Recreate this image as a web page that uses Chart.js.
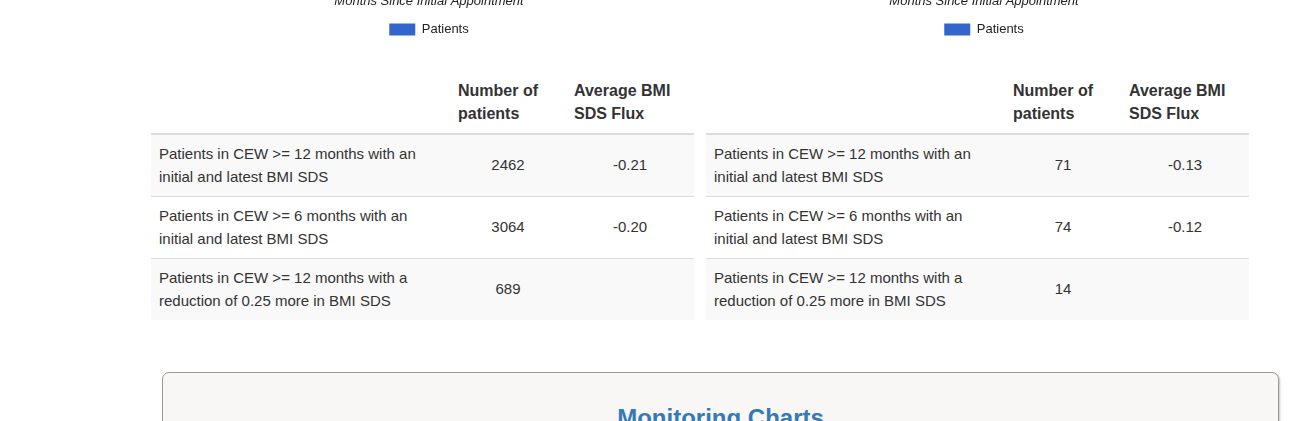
<!DOCTYPE html>
<html>
<head>
<meta charset="utf-8">
<script src="https://cdn.jsdelivr.net/npm/chart.js@4"></script>
<style>
  html, body { margin: 0; padding: 0; background: #fff; overflow: hidden; width: 1311px; height: 421px; }
  body { position: relative; font-family: "Liberation Sans", Arial, Helvetica, sans-serif; color: #333; }
  .chartbox { position: absolute; width: 556px; height: 300px; top: -254px; }
  table { position: absolute; top: 71px; width: 543px; border-collapse: collapse; font-size: 15px; line-height: 1.5; color: #333; }
  th, td { padding: 8px; }
  thead th { text-align: left; vertical-align: bottom; border-bottom: 2px solid #ddd; font-weight: bold; font-size: 16px; line-height: 23px; }
  tbody td { border-top: 1px solid #ddd; vertical-align: middle; }
  tbody td.num { text-align: center; }
  tbody tr:nth-child(odd) { background: #f9f9f9; }
  .panel { position: absolute; left: 162px; top: 372px; width: 1115px; height: 120px; border: 1px solid #9a9a9a; border-radius: 7px; background: #f9f6f6; box-shadow: 1px 1px 2px rgba(0,0,0,0.25); }
  .panel h2 { margin: 0; position: absolute; top: 32px; left: 0; right: 0; text-align: center; font-size: 24px; font-weight: bold; color: #337ab7; line-height: 1.1; }
</style>
</head>
<body>
<div class="chartbox" style="left:151px"><canvas id="c1"></canvas></div>
<div class="chartbox" style="left:706px"><canvas id="c2"></canvas></div>

<table id="t1" style="left:151px"></table>
<table id="t2" style="left:706px"></table>

<div class="panel"><h2>Monitoring Charts</h2></div>

<script>
// Chart categories and values (bars lie above the visible region)
const monthCategories = ["0-3", "3-6", "6-9", "9-12", "12-18", "18-24", "24+"];
const patientsAll = [3900, 3400, 3064, 2800, 2462, 1500, 900];
const patientsSubset = [95, 88, 74, 72, 71, 40, 20];
const xAxisTitle = "Months Since Initial Appointment";
const seriesLabel = "Patients";

// Table content
const headerCols = ["", "Number of patients", "Average BMI SDS Flux"];
const rowLabels = [
  "Patients in CEW >= 12 months with an initial and latest BMI SDS",
  "Patients in CEW >= 6 months with an initial and latest BMI SDS",
  "Patients in CEW >= 12 months with a reduction of 0.25 more in BMI SDS"
];
const counts1 = ["2462", "3064", "689"];
const flux1 = ["-0.21", "-0.20", ""];
const counts2 = ["71", "74", "14"];
const flux2 = ["-0.13", "-0.12", ""];

function buildTable(id, counts, flux) {
  const t = document.getElementById(id);
  let html = '<colgroup><col style="width:299px"><col style="width:116px"><col style="width:128px"></colgroup>';
  html += '<thead><tr>' + headerCols.map(h => '<th>' + h + '</th>').join('') + '</tr></thead><tbody>';
  rowLabels.forEach((lab, i) => {
    html += '<tr><td>' + lab + '</td><td class="num">' + counts[i] + '</td><td class="num">' + flux[i] + '</td></tr>';
  });
  html += '</tbody>';
  t.innerHTML = html;
}
buildTable("t1", counts1, flux1);
buildTable("t2", counts2, flux2);

function makeChart(id, values) {
  return new Chart(document.getElementById(id), {
    type: "bar",
    data: {
      labels: monthCategories,
      datasets: [{ label: seriesLabel, data: values, backgroundColor: "#3366cc", borderWidth: 0 }]
    },
    options: {
      responsive: true,
      maintainAspectRatio: false,
      animation: false,
      layout: { padding: { left: 0, right: 0, bottom: 0 } },
      scales: {
        x: {
          title: { display: true, text: xAxisTitle, color: "#222", font: { family: "Liberation Sans, Arial", size: 13, style: "italic" } },
          ticks: { color: "#444", font: { family: "Liberation Sans, Arial", size: 12 } },
          grid: { display: false }
        },
        y: {
          display: false,
          beginAtZero: true
        }
      },
      plugins: {
        legend: {
          position: "bottom",
          labels: { boxWidth: 26, boxHeight: 12, color: "#222", font: { family: "Liberation Sans, Arial", size: 13 } }
        },
        tooltip: { enabled: false }
      }
    }
  });
}
makeChart("c1", patientsAll);
makeChart("c2", patientsSubset);
</script>
</body>
</html>
